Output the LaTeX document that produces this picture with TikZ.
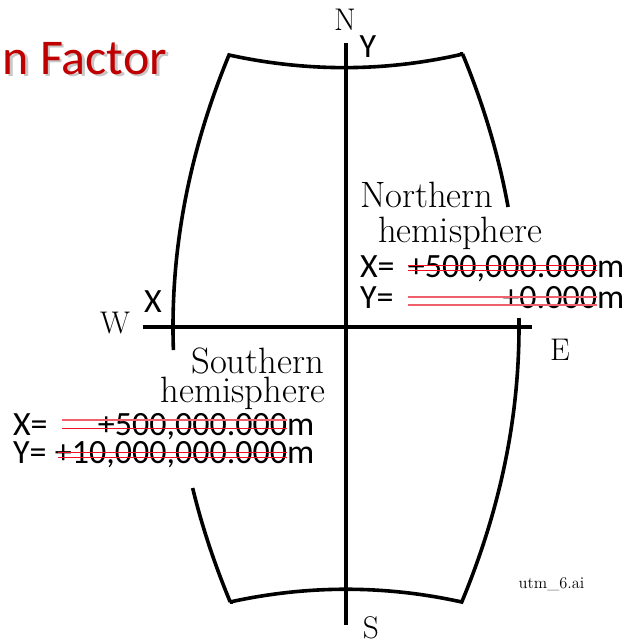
\documentclass[tikz,border=0pt]{standalone}
\usepackage{fontspec}
\newfontfamily\calfont{Carlito}
\definecolor{titlered}{HTML}{C00000}
\definecolor{strikered}{HTML}{F01020}
\definecolor{strikepink}{HTML}{F0606A}
\begin{document}
\begin{tikzpicture}[x=0.75pt,y=-0.75pt,
  edge/.style={line width=2.7pt,line cap=butt,miter limit=3},
  strike/.style={strikered,line width=0.7pt},
  lightstrike/.style={strikepink,line width=0.8pt},
  lbl/.style={inner sep=0pt,outer sep=0pt},
  serif/.style={lbl,font=\fontsize{27.5pt}{30pt}\selectfont},
  compass/.style={lbl,font=\fontsize{23.5pt}{26pt}\selectfont},
  sans/.style={lbl,font=\calfont\fontsize{25.5pt}{28pt}\selectfont},
  titlefont/.style={lbl,anchor=base east,font=\calfont\fontsize{37.5pt}{40pt}\selectfont},
]
\useasboundingbox (0,0) rectangle (625,643);
% title
\node[titlefont,text=black!40,opacity=0.55] (titleshadow) at (169.5,76.5) {n Factor};
\node[titlefont,text=titlered] (title) at (167,74) {n Factor};
% zone outline, upper part
\draw[edge] plot[domain=350:55,samples=60] ({173+7.57*((\x-327)/100)^2},\x)
  .. controls (307,72) and (385,72) .. (463,54)
  -- plot[domain=54:207,samples=40] ({519-7.57*((\x-327)/100)^2},\x);
% zone outline, lower part
\draw[edge] plot[domain=318:602,samples=60] ({519-7.57*((\x-327)/100)^2},\x)
  .. controls (385,585) and (307,585) .. (230,602)
  -- plot[domain=602:488,samples=30] ({173+7.57*((\x-327)/100)^2},\x);
% axes
\coordinate (ntop) at (346,43);
\coordinate (sbot) at (346,625);
\coordinate (wend) at (143,327);
\coordinate (eend) at (532,327);
\draw[edge] (ntop) -- (sbot);
\draw[edge] (wend) -- (eend);
% compass labels
\node[compass,anchor=base] (N) at (345,30) {N};
\node[compass,anchor=base] (S) at (371,638) {S};
\node[compass,anchor=base] (W) at (115,333) {W};
\node[compass,anchor=base] (E) at (560,360) {E};
\node[sans,anchor=base] (Yax) at (368,57) {Y};
\node[sans,anchor=base] (Xax) at (153,312) {X};
% northern text
\node[serif,anchor=base west] (north1) at (360,207) {Northern};
\node[serif,anchor=base west] (north2) at (378,242) {hemisphere};
\node[sans,anchor=base west] (nx) at (360,277) {X=};
\node[sans,anchor=base east] (nxv) at (597,277) {+500,000.000};
\node[sans,anchor=base west] (nxm) at (597,277) {m};
\node[sans,anchor=base west] (ny) at (360,308) {Y=};
\node[sans,anchor=base east] (nyv) at (597,308) {+0.000};
\node[sans,anchor=base west] (nym) at (597,308) {m};
\draw[strike] (408,265) -- (597,265);
\draw[strike] (408,270) -- (597,270);
\draw[lightstrike] (408,297) -- (597,297);
\draw[lightstrike] (408,305) -- (597,305);
% southern text
\node[serif,anchor=base east] (south1) at (324,373) {Southern};
\node[serif,anchor=base east] (south2) at (325,402) {hemisphere};
\node[sans,anchor=base west] (sx) at (13,435) {X=};
\node[sans,anchor=base east] (sxv) at (287,435) {+500,000.000};
\node[sans,anchor=base west] (sxm) at (287,435) {m};
\node[sans,anchor=base west] (sy) at (13,463) {Y=};
\node[sans,anchor=base east] (syv) at (287,463) {+10,000,000.000};
\node[sans,anchor=base west] (sym) at (287,463) {m};
\draw[lightstrike] (62,420) -- (287,420);
\draw[strike] (62,428) -- (287,428);
\draw[strike] (58,452.5) -- (287,452.5);
\draw[strike] (58,457.5) -- (287,457.5);
% file tag
\node[lbl,anchor=base,text=black,font=\fontsize{12.3pt}{14pt}\selectfont] (tag) at (551.5,588) {utm\_6.ai};
\end{tikzpicture}
\end{document}
